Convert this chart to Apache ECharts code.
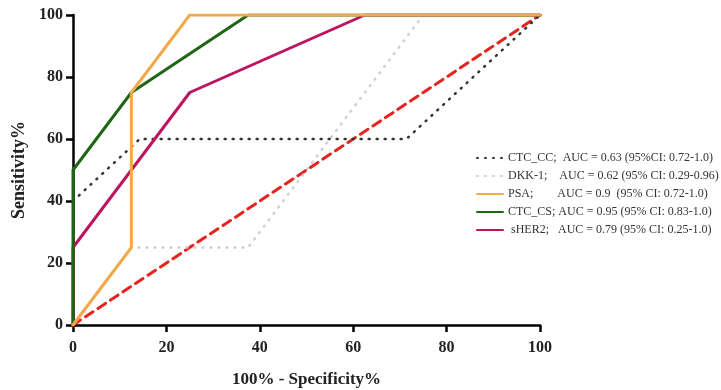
<!DOCTYPE html>
<html>
<head>
<meta charset="utf-8">
<script src="https://cdn.jsdelivr.net/npm/echarts@6/dist/echarts.min.js"></script>
<style>
  html, body { margin: 0; padding: 0; background: #fff; }
  #chart { width: 721px; height: 390px; }
</style>
</head>
<body>
<div id="chart"></div>
<script>
// ROC curves: [100% - Specificity%, Sensitivity%]
const ctcCC = [[0, 40], [14.3, 60], [71.4, 60], [100, 100]];
const dkk1 = [[0, 0], [12.5, 25], [37.5, 25], [75, 100], [100, 100]];
const psa = [[0, 0], [12.5, 25], [12.5, 75], [25, 100], [100, 100]];
const ctcCS = [[0, 0], [0, 50], [12.5, 75], [37.5, 100], [100, 100]];
const sher2 = [[0, 0], [0, 25], [12.5, 50], [25, 75], [62.5, 100], [100, 100]];
const reference = [[0, 0], [100, 100]];

const seriesNames = [
  'CTC_CC;  AUC = 0.63 (95%CI: 0.72-1.0)',
  'DKK-1;    AUC = 0.62 (95% CI: 0.29-0.96)',
  'PSA;        AUC = 0.9  (95% CI: 0.72-1.0)',
  'CTC_CS; AUC = 0.95 (95% CI: 0.83-1.0)',
  ' sHER2;   AUC = 0.79 (95% CI: 0.25-1.0)'
];
const xTicks = [0, 20, 40, 60, 80, 100];
const yTicks = [0, 20, 40, 60, 80, 100];

const serif = '"Liberation Serif", "DejaVu Serif", serif';
const chart = echarts.init(document.getElementById('chart'), null, { renderer: 'canvas' });

function line(name, data, color, width, type, z) {
  return {
    name: name,
    type: 'line',
    data: data,
    symbol: 'none',
    showSymbol: false,
    z: z,
    lineStyle: { color: color, width: width, type: type, cap: 'round' },
    itemStyle: { color: color },
    animation: false
  };
}

chart.setOption({
  backgroundColor: '#fff',
  grid: { left: 73, right: 181, top: 15, bottom: 65, containLabel: false, outerBoundsMode: 'none' },
  xAxis: {
    type: 'value', min: 0, max: 100, interval: 20,
    name: '100% - Specificity%', nameLocation: 'middle', nameGap: 46,
    nameTextStyle: { fontFamily: serif, fontWeight: 'bold', fontSize: 17, color: '#222' },
    axisLine: { lineStyle: { color: '#000', width: 2.5 } },
    axisTick: { show: true, length: 7, lineStyle: { color: '#000', width: 2.5 } },
    axisLabel: { fontFamily: serif, fontWeight: 'bold', fontSize: 16, color: '#222', margin: 15,
      formatter: v => xTicks.includes(v) ? String(v) : '' },
    splitLine: { show: false }
  },
  yAxis: {
    type: 'value', min: 0, max: 100, interval: 20,
    name: 'Sensitivity%', nameLocation: 'middle', nameGap: 44,
    nameTextStyle: { fontFamily: serif, fontWeight: 'bold', fontSize: 18, color: '#222' },
    axisLine: { show: true, lineStyle: { color: '#000', width: 2.5 } },
    axisTick: { show: true, length: 7, lineStyle: { color: '#000', width: 2.5 } },
    axisLabel: { fontFamily: serif, fontWeight: 'bold', fontSize: 16, color: '#222', margin: 10,
      formatter: v => yTicks.includes(v) ? String(v) : '' },
    splitLine: { show: false }
  },
  legend: {
    left: 471, top: 147, orient: 'vertical',
    itemGap: 6, itemWidth: 26, itemHeight: 12,
    itemStyle: { opacity: 0 },
    textStyle: { fontFamily: serif, fontSize: 12, color: '#333' },
    data: seriesNames
  },
  series: [
    line('reference', reference, '#E8231F', 3, [9, 6], 1),
    line(seriesNames[1], dkk1, '#CFCFCF', 2.5, [1, 7], 2),
    line(seriesNames[0], ctcCC, '#333333', 2.5, [1, 7], 3),
    line(seriesNames[4], sher2, '#BE1460', 3, 'solid', 4),
    line(seriesNames[3], ctcCS, '#1F6614', 3, 'solid', 5),
    line(seriesNames[2], psa, '#F5A84A', 3, 'solid', 6)
  ]
});
</script>
</body>
</html>
